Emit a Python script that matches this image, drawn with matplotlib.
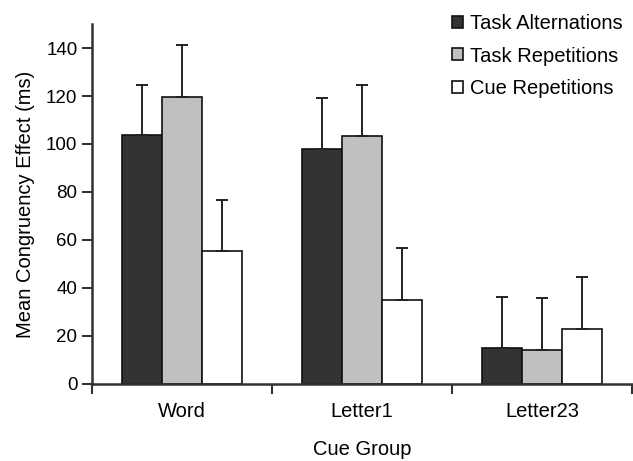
import numpy as np
import matplotlib.pyplot as plt

plt.rcParams['font.family'] = ['Liberation Sans', 'DejaVu Sans']

groups = ['Word', 'Letter1', 'Letter23']
series = ['Task Alternations', 'Task Repetitions', 'Cue Repetitions']
alternations = [103.8, 97.8, 14.8]
repetitions = [119.8, 103.3, 14.2]
cue_reps = [55.2, 35.1, 22.9]
err_alt = [20.8, 21.4, 21.5]
err_rep = [21.6, 21.3, 21.4]
err_cue = [21.5, 21.3, 21.5]

colors = ['#333333', '#c0c0c0', '#ffffff']
values = [alternations, repetitions, cue_reps]
errors = [err_alt, err_rep, err_cue]

fig = plt.figure(figsize=(6.33, 4.61), dpi=100)
ax = fig.add_axes([0.1453, 0.1677, 0.853, 0.78])

x = np.arange(len(groups)) + 0.5
w = 0.222
for k in range(3):
    ax.bar(x + (k - 1) * w, values[k], w, color=colors[k], edgecolor='#111111',
           linewidth=1.2, label=series[k],
           yerr=[np.zeros(3), errors[k]], capsize=4.5,
           error_kw=dict(ecolor='#222222', elinewidth=1.4, capthick=1.4))

ax.set_xlim(0, 3)
ax.set_ylim(0, 150)
ax.set_yticks(range(0, 141, 20))
ax.set_xticks([0, 1, 2, 3])
ax.set_xticklabels([])
ax.set_xticks(x, minor=True)
ax.set_xticklabels(groups, minor=True)
ax.tick_params(axis='x', which='minor', length=0, pad=13, labelsize=14.5)
ax.tick_params(axis='x', which='major', length=7, width=1.5, direction='out', color='#333333')
ax.tick_params(axis='y', length=7, width=1.5, direction='out', labelsize=13.5, color='#333333')

for s in ['top', 'right']:
    ax.spines[s].set_visible(False)
for s in ['left', 'bottom']:
    ax.spines[s].set_linewidth(1.8)
    ax.spines[s].set_color('#333333')

ax.set_xlabel('Cue Group', fontsize=14.5, labelpad=14)
ax.set_ylabel('Mean Congruency Effect (ms)', fontsize=14.5, labelpad=8)

fig.legend(loc='upper left', bbox_to_anchor=(0.714, 0.97), frameon=False,
           fontsize=14.5, handlelength=0.55, handleheight=0.55,
           handletextpad=0.35, labelspacing=0.68, borderpad=0, borderaxespad=0)

fig.savefig('out.png', dpi=100)
